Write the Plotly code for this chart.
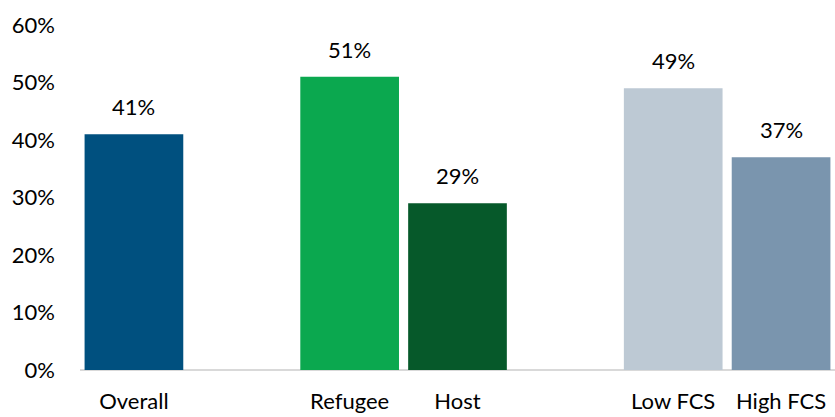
import plotly.graph_objects as go

# Share of households, by group
categories = ["Overall", "Refugee", "Host", "Low FCS", "High FCS"]
values = [0.41, 0.51, 0.29, 0.49, 0.37]
colors = ["#00507F", "#0BA84F", "#06592A", "#BDC9D4", "#7A95AE"]

# Category order with empty spacer slots between groups
axis_order = ["Overall", " ", "Refugee", "Host", "  ", "Low FCS", "High FCS"]

FONT = "Lato, 'Open Sans', sans-serif"

fig = go.Figure(
    go.Bar(
        x=categories,
        y=values,
        marker=dict(color=colors, line=dict(width=0)),
        width=0.915,
        hoverinfo="skip",
    )
)

for cat, val in zip(categories, values):
    fig.add_annotation(
        x=cat, y=val, text=f"{round(val * 100)}%",
        showarrow=False, yanchor="bottom", yshift=12,
        font=dict(family=FONT, size=22, color="#000000"),
    )

fig.update_layout(
    width=835, height=417,
    margin=dict(l=80, r=0, t=25, b=47),
    paper_bgcolor="white", plot_bgcolor="white",
    showlegend=False,
    font=dict(family=FONT, size=22, color="#000000"),
    xaxis=dict(
        type="category", categoryorder="array", categoryarray=axis_order,
        range=[-0.5, 6.5], showgrid=False, zeroline=False,
        showline=False, ticks="", tickfont=dict(size=22),
        ticklabelstandoff=16,
    ),
    yaxis=dict(
        range=[0, 0.6], tickvals=[0, 0.1, 0.2, 0.3, 0.4, 0.5, 0.6],
        tickformat=".0%", showgrid=False, zeroline=True,
        zerolinecolor="#D9D9D9", zerolinewidth=2,
        showline=False, ticks="", ticklabelstandoff=24,
        tickfont=dict(size=22),
    ),
)

fig.write_html("out.html")
